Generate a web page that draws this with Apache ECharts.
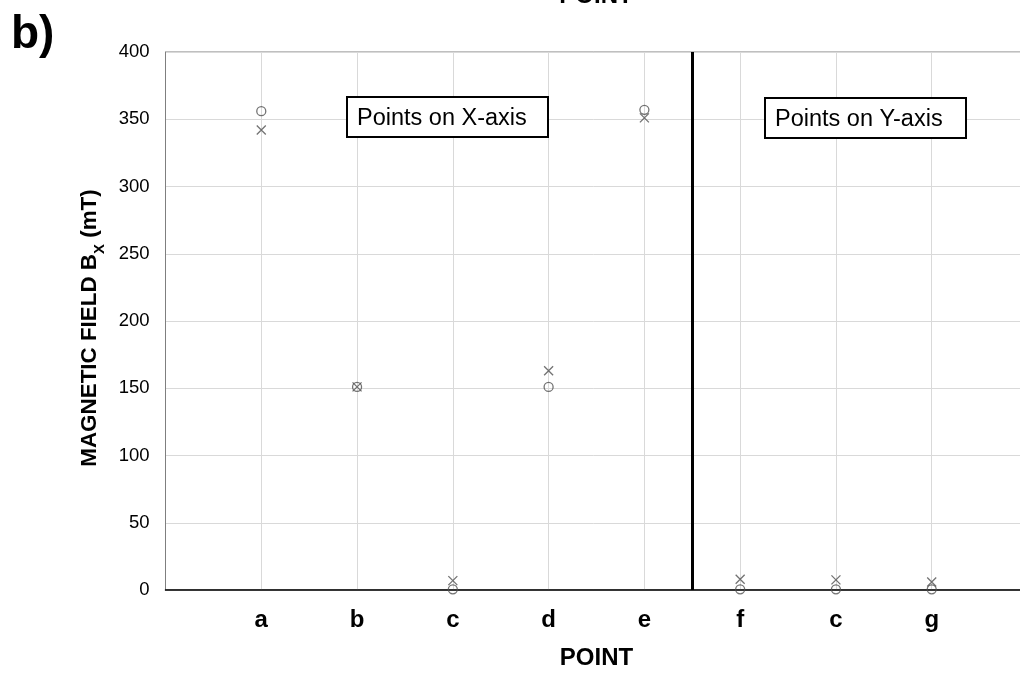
<!DOCTYPE html>
<html>
<head>
<meta charset="utf-8">
<script src="https://cdn.jsdelivr.net/npm/echarts@6/dist/echarts.min.js"></script>
<style>html,body{margin:0;padding:0;background:#fff}#c{width:1020px;height:673px}</style>
</head>
<body>
<div id="c"></div>
<script>
var pointLabels = ['a', 'b', 'c', 'd', 'e', 'f', 'c', 'g'];
var pointPos = [1, 2, 3, 4, 5, 6, 7, 8];
var circleVals = [356, 151, 0.5, 151, 357, 0.5, 0.5, 0.5];
var crossVals = [342, 151, 7, 163, 351, 8, 7.5, 6];
var yTicks = [0, 50, 100, 150, 200, 250, 300, 350, 400];
var dividerX = 5.5;

var FF = '"Liberation Sans", Arial, sans-serif';
var chart = echarts.init(document.getElementById('c'), null, {renderer: 'canvas'});

function pairs(vals) { return vals.map(function (v, i) { return [pointPos[i], v]; }); }

var option = {
  animation: false,
  backgroundColor: '#fff',
  grid: {left: 165.5, top: 52, width: 862, bottom: 83, show: true, borderColor: '#7f7f7f', borderWidth: 1, backgroundColor: 'transparent', outerBoundsMode: 'none', containLabel: false},
  xAxis: {
    type: 'value', min: 0, max: 9, interval: 1,
    name: 'POINT', nameLocation: 'middle', nameGap: 56,
    nameTextStyle: {fontFamily: FF, fontSize: 24, fontWeight: 'bold', color: '#000'},
    axisLine: {show: true, lineStyle: {color: '#000', width: 1.5}},
    axisTick: {show: false},
    axisLabel: {
      margin: 18, fontFamily: FF, fontSize: 24, fontWeight: 'bold', color: '#000',
      formatter: function (v) { var i = pointPos.indexOf(v); return i >= 0 ? pointLabels[i] : ''; }
    },
    splitLine: {show: true, lineStyle: {color: '#d9d9d9', width: 1}}
  },
  yAxis: {
    type: 'value', min: yTicks[0], max: yTicks[yTicks.length - 1], interval: 50,
    name: '{m|MAGNETIC FIELD B}{s|X}{m| (mT)}', nameLocation: 'middle', nameGap: 57, nameRotate: 90,
    nameTextStyle: {
      color: '#000', padding: [0, 14, 0, 0],
      rich: {
        m: {fontFamily: FF, fontSize: 22.4, fontWeight: 'bold', color: '#000', lineHeight: 24, verticalAlign: 'top'},
        s: {fontFamily: FF, fontSize: 15, fontWeight: 'bold', color: '#000', lineHeight: 14, verticalAlign: 'top', padding: [14, 0, 0, 0]}
      }
    },
    axisLine: {show: true, lineStyle: {color: '#7f7f7f', width: 1}},
    axisTick: {show: false},
    axisLabel: {margin: 16, fontFamily: FF, fontSize: 18.5, color: '#000'},
    splitLine: {show: true, lineStyle: {color: '#d9d9d9', width: 1}}
  },
  series: [
    {
      type: 'scatter', name: 'circle', clip: false,
      symbol: 'circle', symbolSize: 9,
      itemStyle: {color: 'transparent', borderColor: '#505050', borderWidth: 1.3},
      data: pairs(circleVals), z: 3
    },
    {
      type: 'scatter', name: 'cross', clip: false,
      symbol: 'path://M0,0L10,10M10,0L0,10', symbolSize: 9,
      itemStyle: {color: 'transparent', borderColor: '#505050', borderWidth: 1.3},
      data: pairs(crossVals), z: 3,
      markLine: {
        silent: true, symbol: 'none', label: {show: false},
        lineStyle: {color: '#000', width: 3, type: 'solid'},
        data: [{xAxis: dividerX}]
      }
    }
  ],
  graphic: [
    {type: 'text', style: {text: 'b)', x: 11, y: 12, font: 'bold 46px ' + FF, fill: '#000', verticalAlign: 'top'}},
    {type: 'text', style: {text: 'POINT', x: 596, y: -4, font: 'bold 24px ' + FF, fill: '#000', align: 'center', verticalAlign: 'middle'}},
    {type: 'rect', shape: {x: 347, y: 97, width: 201, height: 40}, style: {fill: '#fff', stroke: '#000', lineWidth: 2}, z: 10},
    {type: 'text', style: {text: 'Points on X-axis', x: 357, y: 118.5, font: '23.5px ' + FF, fill: '#000', verticalAlign: 'middle'}, z: 11},
    {type: 'rect', shape: {x: 765, y: 98, width: 201, height: 40}, style: {fill: '#fff', stroke: '#000', lineWidth: 2}, z: 10},
    {type: 'text', style: {text: 'Points on Y-axis', x: 775, y: 119.5, font: '23.5px ' + FF, fill: '#000', verticalAlign: 'middle'}, z: 11}
  ]
};
chart.setOption(option);
</script>
</body>
</html>
